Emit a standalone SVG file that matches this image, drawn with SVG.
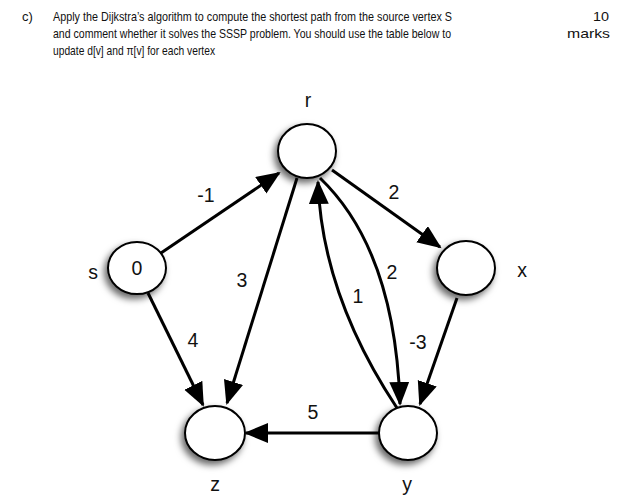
<svg xmlns="http://www.w3.org/2000/svg" width="640" height="502" viewBox="0 0 640 502">
<style>
.hdr{font-family:"Liberation Sans",Arial,sans-serif;font-size:13px;fill:#111}
.lbl{font-family:"Liberation Sans",Arial,sans-serif;font-size:19.5px;fill:#111;text-anchor:middle}
.node{fill:#fff;stroke:#000;stroke-width:2;filter:url(#sh)}
.edge{fill:none;stroke:#000;stroke-width:3;marker-end:url(#ah)}
</style>
<defs>
<filter id="sh" x="-50%" y="-50%" width="200%" height="200%">
<feDropShadow dx="-3" dy="4" stdDeviation="3.5" flood-color="#000" flood-opacity="0.6"/>
</filter>
<marker id="ah" markerUnits="userSpaceOnUse" markerWidth="26" markerHeight="22" refX="22" refY="10" orient="auto">
<path d="M0,0 L24,10 L0,20 z" fill="#000"/>
</marker>
</defs>
<rect width="640" height="502" fill="#fff"/>
<g id="header">
<text class="hdr" x="22" y="21">c)</text>
<text class="hdr" x="53" y="21" textLength="399" lengthAdjust="spacingAndGlyphs">Apply the Dijkstra’s algorithm to compute the shortest path from the source vertex S</text>
<text class="hdr" x="53" y="38" textLength="398" lengthAdjust="spacingAndGlyphs">and comment whether it solves the SSSP problem. You should use the table below to</text>
<text class="hdr" x="53" y="55" textLength="162" lengthAdjust="spacingAndGlyphs">update d[v] and π[v] for each vertex</text>
<text class="hdr" x="593" y="21" textLength="16" lengthAdjust="spacingAndGlyphs">10</text>
<text class="hdr" x="567" y="38" textLength="43" lengthAdjust="spacingAndGlyphs">marks</text>
</g>
<g id="connectors">
<path class="edge" d="M161,253 L279,173"/>
<path class="edge" d="M332,170 L440,247"/>
<path class="edge" d="M297,178 L227,403"/>
<path class="edge" d="M148,293 L203,405"/>
<path class="edge" d="M457,298 L420,404"/>
<path class="edge" d="M380,433 L246,433"/>
<path class="edge" d="M320,178 Q395,250 400,404"/>
<path class="edge" d="M397,408 Q322,295 318,182"/>
<text class="lbl" x="206" y="202">-1</text>
<text class="lbl" x="394" y="199">2</text>
<text class="lbl" x="242" y="287">3</text>
<text class="lbl" x="392" y="279">2</text>
<text class="lbl" x="358" y="303">1</text>
<text class="lbl" x="193" y="347">4</text>
<text class="lbl" x="418" y="349">-3</text>
<text class="lbl" x="313" y="419">5</text>
</g>
<g id="node-r">
<ellipse class="node" cx="307" cy="151" rx="29" ry="27"/>
<text class="lbl" x="308" y="107">r</text>
</g>
<g id="node-s">
<ellipse class="node" cx="137" cy="268" rx="29" ry="26"/>
<text class="lbl" x="137" y="275">0</text>
<text class="lbl" x="93" y="279">s</text>
</g>
<g id="node-x">
<ellipse class="node" cx="466" cy="268" rx="29" ry="27"/>
<text class="lbl" x="522" y="277">x</text>
</g>
<g id="node-z">
<ellipse class="node" cx="215" cy="433" rx="30" ry="27"/>
<text class="lbl" x="215" y="491">z</text>
</g>
<g id="node-y">
<ellipse class="node" cx="408" cy="433" rx="29" ry="27"/>
<text class="lbl" x="407" y="491">y</text>
</g>
</svg>
